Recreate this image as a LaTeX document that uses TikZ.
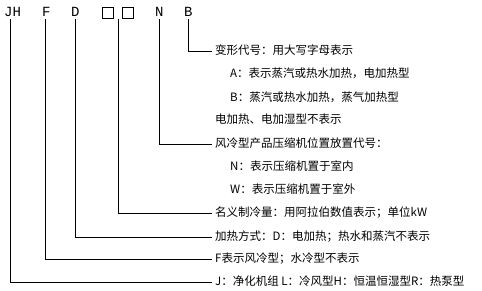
\documentclass[tikz,border=0pt]{standalone}
\usepackage{fontspec}
\newfontfamily\cjk{Noto Sans CJK SC}
\newfontfamily\monof{Liberation Mono}
\tikzset{
  lbl/.style={anchor=west, inner xsep=3pt, inner ysep=0pt, font=\cjk\fontsize{11.5}{12}\selectfont, text height=8.7pt, text depth=1.5pt},
  sub/.style={anchor=west, inner xsep=0pt, inner ysep=0pt, font=\cjk\fontsize{11.5}{12}\selectfont, text height=8.7pt, text depth=1.5pt},
  top/.style={anchor=base west, inner sep=0pt, font=\monof\fontsize{14}{14}\selectfont},
  conn/.style={draw=black, line width=0.9pt},
  boxc/.style={draw=black, line width=0.9pt, minimum width=11pt, minimum height=11pt, inner sep=0pt}
}
\begin{document}
\begin{tikzpicture}[x=1pt,y=-1pt]
\useasboundingbox (0,0) rectangle (482,291);
% top code letters
\node[top] (JH) at (4,17) {JH};
\node[top] (F) at (42,17) {F};
\node[top] (D) at (71,17) {D};
\node[boxc] (box1) at (107.5,12.5) {};
\node[boxc] (box2) at (127.5,12.5) {};
\node[top] (N) at (155,17) {N};
\node[top] (B) at (184,17) {B};
% connector start points
\coordinate (cJ) at (10,19);
\coordinate (cF) at (45.5,19);
\coordinate (cD) at (75,19);
\coordinate (cX) at (118,19);
\coordinate (cN) at (159,19);
\coordinate (cB) at (188,19);
% texts
\node[lbl] (t1) at (212,51) {变形代号：用大写字母表示};
\node[sub] (t2) at (230,74) {A：表示蒸汽或热水加热，电加热型};
\node[sub] (t3) at (230,98) {B：蒸汽或热水加热，蒸气加热型};
\node[sub] (t4) at (215,120) {电加热、电加湿型不表示};
\node[lbl] (t5) at (212,144) {风冷型产品压缩机位置放置代号：};
\node[sub] (t6) at (230,167) {N：表示压缩机置于室内};
\node[sub] (t7) at (230,190) {W：表示压缩机置于室外};
\node[lbl] (t8) at (212,213) {名义制冷量：用阿拉伯数值表示；单位kW};
\node[lbl] (t9) at (212,237) {加热方式：D：电加热；热水和蒸汽不表示};
\node[lbl] (t10) at (212,259) {F表示风冷型；水冷型不表示};
\node[lbl] (t11) at (212,282) {J：净化机组 L：冷风型H：恒温恒湿型R：热泵型};
% connectors
\draw[conn] (cB) |- (t1.west);
\draw[conn] (cN) |- (t5.west);
\draw[conn] (cX) |- (t8.west);
\draw[conn] (cD) |- (t9.west);
\draw[conn] (cF) |- (t10.west);
\draw[conn] (cJ) |- (t11.west);
\end{tikzpicture}
\end{document}
